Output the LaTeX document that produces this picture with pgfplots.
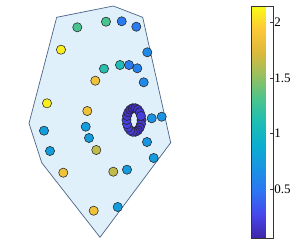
\documentclass[border=0pt]{standalone}
\usepackage{pgfplots}
\pgfplotsset{compat=1.18}
\usepackage{fontspec}
\setmainfont{Liberation Serif}
\usetikzlibrary{calc}
\pgfplotsset{colormap={parulaold}{
 rgb255=(62,38,168) rgb255=(71,70,235) rgb255=(45,117,243) rgb255=(26,147,227) rgb255=(11,174,207) rgb255=(30,189,180) rgb255=(75,196,140) rgb255=(150,192,95) rgb255=(220,185,60) rgb255=(253,200,55) rgb255=(249,251,21)}}
\definecolor{hullfill}{RGB}{224,240,250}
\definecolor{hulledge}{RGB}{75,100,135}
\pgfplotstableread{
x y c
77.3 27.3 1.30
61.0 49.7 2.10
95.3 80.7 1.85
47.0 103.3 2.10
87.3 111.0 1.85
106.0 21.7 1.30
121.7 21.3 0.52
136.3 26.7 0.52
147.3 52.3 0.62
104.0 68.7 1.15
120.0 65.0 1.10
129.0 65.0 0.52
137.3 68.3 0.57
143.7 82.3 0.62
151.7 118.3 0.68
161.7 116.7 0.68
44.0 130.7 0.76
85.7 126.7 0.76
89.0 138.0 0.76
50.0 151.0 0.76
96.3 150.0 1.65
147.0 142.0 0.72
153.7 158.0 0.76
63.3 172.7 1.85
113.3 171.7 1.65
127.0 169.7 0.76
93.7 210.7 1.85
117.7 207.0 0.76
141.5 120.0 0.20
141.0 124.1 0.18
139.7 127.7 0.15
137.8 130.4 0.12
135.3 131.8 0.15
132.7 131.8 0.18
130.3 130.4 0.22
128.3 127.7 0.20
127.0 124.1 0.25
126.5 120.0 0.22
127.0 115.9 0.18
128.3 112.3 0.15
130.3 109.6 0.12
132.7 108.2 0.10
135.3 108.2 0.12
137.8 109.6 0.15
139.7 112.3 0.18
141.0 115.9 0.22
}\pts
\begin{document}
\begin{tikzpicture}
\useasboundingbox (0,0) rectangle (300pt,250pt);
\begin{axis}[
  at={(0,0)}, anchor=south west,
  scale only axis, width=300pt, height=250pt,
  xmin=0, xmax=300, ymin=0, ymax=250, y dir=reverse,
  hide axis, clip=false,
  colormap name=parulaold,
  point meta min=0.063, point meta max=2.146,
  colorbar,
  colorbar style={
    at={($(parent axis.south west)+(242.7pt,244pt)$)}, anchor=north west,
    scale only axis, width=21.6pt, height=232pt,
    ytick={0.5,1,1.5,2},
    yticklabels={0.5,1,1.5,2},
    ytick pos=right, yticklabel pos=right,
    tick align=inside, major tick length=3pt,
    axis line style={draw=black!80, line width=0.5pt},
    ytick style={draw=black!80, line width=0.5pt},
    yticklabel style={font=\fontsize{13}{13}\selectfont, xshift=-2pt},
  },
]
\addplot[fill=hullfill, draw=hulledge, line width=0.7pt] coordinates {(56.7,17.3) (113.3,6) (142.7,17.3) (170.7,142.7) (100,237.3) (41.7,162.7) (29,123.3)} -- cycle;
\addplot[scatter, only marks, scatter src=explicit, mark=*, mark size=4.6pt,
  scatter/use mapped color={draw=black!85, fill=mapped color},
  mark options={line width=0.55pt}] table[x=x, y=y, meta=c] {\pts};
\end{axis}
\end{tikzpicture}
\end{document}
